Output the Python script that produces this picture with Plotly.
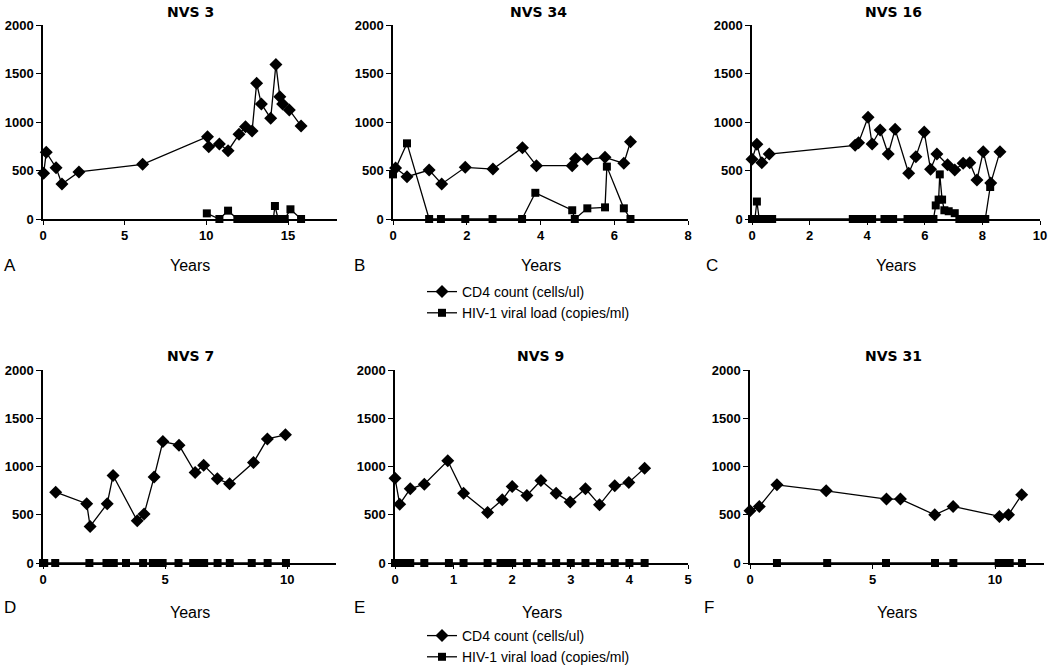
import plotly.graph_objects as go

W, H = 1050, 667

# ---------------- data ----------------
panel_titles = ["NVS 3", "NVS 34", "NVS 16", "NVS 7", "NVS 9", "NVS 31"]
panel_letters = ["A", "B", "C", "D", "E", "F"]

# Panel A (NVS 3)
a_cd4_x = [0.04, 0.2, 0.8, 1.16, 2.2, 6.1, 10.07, 10.15, 10.8, 11.33, 12.0, 12.4, 12.8, 13.08, 13.37, 13.94, 14.26, 14.5, 14.67, 15.08, 15.8]
a_cd4_y = [471, 687, 529, 361, 485, 564, 849, 746, 773, 704, 873, 952, 907, 1399, 1186, 1038, 1594, 1261, 1186, 1124, 959]
a_vl_x = [10.03, 10.8, 11.33, 11.9, 12.1, 12.3, 12.5, 12.7, 12.9, 13.1, 13.3, 13.5, 13.9, 14.1, 14.2, 14.4, 14.6, 14.8, 15.15, 15.8]
a_vl_y = [58, 0, 86, 0, 0, 0, 0, 0, 0, 0, 0, 0, 0, 0, 134, 0, 0, 0, 100, 0]

# Panel B (NVS 34)
b_cd4_x = [0.07, 0.38, 0.98, 1.32, 1.96, 2.71, 3.51, 3.89, 4.86, 4.95, 5.27, 5.75, 6.26, 6.44]
b_cd4_y = [525, 436, 505, 361, 533, 515, 735, 550, 550, 622, 615, 636, 574, 797]
b_vl_x = [0.0, 0.38, 0.98, 1.3, 1.96, 2.7, 3.5, 3.86, 4.86, 4.93, 5.27, 5.75, 5.8, 6.26, 6.44]
b_vl_y = [460, 780, 0, 0, 0, 0, 0, 270, 90, 0, 110, 120, 540, 110, 0]

# Panel C (NVS 16)
c_cd4_x = [0.0, 0.17, 0.34, 0.6, 3.58, 3.7, 4.03, 4.17, 4.45, 4.73, 4.97, 5.44, 5.69, 5.98, 6.2, 6.42, 6.79, 7.04, 7.33, 7.56, 7.81, 8.03, 8.29, 8.61]
c_cd4_y = [615, 770, 581, 670, 760, 787, 1048, 773, 918, 670, 924, 471, 643, 897, 512, 670, 560, 505, 574, 581, 402, 694, 370, 694]
c_vl_x = [0.0, 0.1, 0.17, 0.25, 0.34, 0.45, 0.6, 0.7, 3.5, 3.6, 3.7, 3.9, 4.05, 4.17, 4.6, 4.75, 4.9, 5.4, 5.5, 5.6, 5.7, 5.8, 5.95, 6.1, 6.3, 6.38, 6.48, 6.52, 6.6, 6.68, 6.83, 7.04, 7.2, 7.4, 7.6, 7.8, 8.0, 8.1, 8.27]
c_vl_y = [0, 0, 180, 0, 0, 0, 0, 0, 0, 0, 0, 0, 0, 0, 0, 0, 0, 0, 0, 0, 0, 0, 0, 0, 0, 140, 200, 460, 200, 90, 80, 60, 0, 0, 0, 0, 0, 0, 330]

# Panel D (NVS 7)
d_cd4_x = [0.52, 1.79, 1.93, 2.63, 2.87, 3.86, 4.14, 4.55, 4.91, 5.57, 6.23, 6.58, 7.14, 7.64, 8.62, 9.19, 9.93]
d_cd4_y = [734, 614, 379, 614, 907, 438, 507, 890, 1259, 1221, 938, 1014, 872, 821, 1041, 1286, 1328]
d_vl_x = [0.0, 0.05, 0.5, 1.9, 2.6, 2.75, 2.9, 3.4, 4.1, 4.5, 4.65, 4.8, 4.9, 5.55, 6.15, 6.35, 6.6, 7.15, 7.65, 8.55, 9.2, 9.95]
d_vl_y = [0] * len(d_vl_x)

# Panel E (NVS 9)
e_cd4_x = [0.0, 0.08, 0.26, 0.5, 0.9, 1.17, 1.58, 1.83, 2.0, 2.25, 2.49, 2.75, 2.99, 3.25, 3.49, 3.75, 3.99, 4.26]
e_cd4_y = [879, 610, 769, 817, 1059, 724, 524, 655, 793, 700, 855, 724, 631, 769, 603, 800, 834, 983]
e_vl_x = [0.0, 0.03, 0.1, 0.15, 0.26, 0.5, 0.92, 1.17, 1.58, 1.8, 1.88, 2.0, 2.25, 2.5, 2.75, 3.0, 3.25, 3.5, 3.75, 4.0, 4.26]
e_vl_y = [0] * len(e_vl_x)

# Panel F (NVS 31)
f_cd4_x = [0.0, 0.38, 1.1, 3.11, 5.57, 6.14, 7.54, 8.29, 10.18, 10.55, 11.09]
f_cd4_y = [541, 586, 810, 748, 662, 662, 500, 586, 483, 500, 707]
f_vl_x = [1.1, 3.15, 5.55, 7.55, 8.3, 10.15, 10.3, 10.5, 10.6, 11.1]
f_vl_y = [0] * len(f_vl_x)

x_ranges = [[0, 18], [0, 8], [0, 10], [0, 12], [0, 5], [0, 12]]
x_ticks = [[0, 5, 10, 15], [0, 2, 4, 6, 8], [0, 2, 4, 6, 8, 10], [0, 5, 10], [0, 1, 2, 3, 4, 5], [0, 5, 10]]
y_ticks = [0, 500, 1000, 1500, 2000]
x_title = "Years"
cd4_name = "CD4 count (cells/ul)"
vl_name = "HIV-1 viral load (copies/ml)"

panels = [
    (a_cd4_x, a_cd4_y, a_vl_x, a_vl_y),
    (b_cd4_x, b_cd4_y, b_vl_x, b_vl_y),
    (c_cd4_x, c_cd4_y, c_vl_x, c_vl_y),
    (d_cd4_x, d_cd4_y, d_vl_x, d_vl_y),
    (e_cd4_x, e_cd4_y, e_vl_x, e_vl_y),
    (f_cd4_x, f_cd4_y, f_vl_x, f_vl_y),
]

# ---------------- layout (pixel geometry) ----------------
x_px = [(43, 337), (393, 688), (752, 1040), (43, 336), (395, 688), (750, 1044)]
y_px = [(25, 219), (25, 219), (25, 219), (370, 563), (370, 563), (370, 563)]
title_px = [(190, 12), (538, 12), (893, 12), (190, 356), (540, 356), (893, 356)]
letter_px = [(2, 265), (352, 265), (704, 265), (2, 607), (352, 607), (702, 607)]
years_y_px = [265, 265, 265, 612, 612, 612]

def px_x(p):
    return p / W

def px_y(p):
    return 1 - p / H

fig = go.Figure()
tick_font = dict(family="Liberation Sans, Arial", size=13, color="black", weight="bold")

annotations = []
for i, (cx, cy, vx, vy) in enumerate(panels):
    xa = "x" if i == 0 else f"x{i+1}"
    ya = "y" if i == 0 else f"y{i+1}"
    legend_ref = "legend" if i < 3 else "legend2"
    show = i in (0, 3)
    fig.add_trace(go.Scatter(
        x=cx, y=cy, mode="lines+markers", name=cd4_name,
        line=dict(color="black", width=1.3),
        marker=dict(symbol="diamond", size=10, color="black"),
        xaxis=xa, yaxis=ya, cliponaxis=False,
        showlegend=show, legend=legend_ref,
    ))
    fig.add_trace(go.Scatter(
        x=vx, y=vy, mode="lines+markers", name=vl_name,
        line=dict(color="black", width=1.3),
        marker=dict(symbol="square", size=8, color="black"),
        xaxis=xa, yaxis=ya, cliponaxis=False,
        showlegend=show, legend=legend_ref,
    ))
    sfx = "" if i == 0 else str(i + 1)
    fig.layout["xaxis" + sfx] = dict(
        domain=[px_x(x_px[i][0]), px_x(x_px[i][1])],
        range=x_ranges[i], tickvals=x_ticks[i], ticks="outside", ticklen=4,
        tickwidth=1.3, tickcolor="black",
        showline=True, linecolor="black", linewidth=1.5, showgrid=False,
        zeroline=False, anchor=ya, tickfont=tick_font, fixedrange=True,
        automargin=False,
    )
    fig.layout["yaxis" + sfx] = dict(
        domain=[px_y(y_px[i][1]), px_y(y_px[i][0])],
        range=[0, 2000], tickvals=y_ticks, ticks="outside", ticklen=5,
        tickwidth=1.3, tickcolor="black",
        showline=True, linecolor="black", linewidth=1.5, showgrid=False,
        zeroline=False, anchor=xa, tickfont=tick_font, fixedrange=True,
        automargin=False,
    )
    annotations.append(dict(
        text=f"<b>{panel_titles[i]}</b>", x=px_x(title_px[i][0]), y=px_y(title_px[i][1]),
        xref="paper", yref="paper", showarrow=False, xanchor="center", yanchor="middle",
        font=dict(family="DejaVu Sans, Arial", size=14, color="black"),
    ))
    annotations.append(dict(
        text=panel_letters[i], x=px_x(letter_px[i][0]), y=px_y(letter_px[i][1]),
        xref="paper", yref="paper", showarrow=False, xanchor="left", yanchor="middle",
        font=dict(family="Liberation Sans, Arial", size=17, color="black"),
    ))
    annotations.append(dict(
        text=x_title, x=px_x((x_px[i][0] + x_px[i][1]) / 2), y=px_y(years_y_px[i]),
        xref="paper", yref="paper", showarrow=False, xanchor="center", yanchor="middle",
        font=dict(family="Liberation Sans, Arial", size=16, color="black"),
    ))

legend_style = dict(
    font=dict(family="Liberation Sans, Arial", size=14, color="black"),
    bgcolor="rgba(0,0,0,0)", itemwidth=30, tracegroupgap=0,
    xanchor="left", yanchor="top", orientation="v",
)
fig.update_layout(
    width=W, height=H,
    margin=dict(l=0, r=0, t=0, b=0, autoexpand=False),
    paper_bgcolor="white", plot_bgcolor="white",
    annotations=annotations,
    legend=dict(x=px_x(422), y=px_y(276), **legend_style),
    legend2=dict(x=px_x(422), y=px_y(620), **legend_style),
)

# remove the browser's default 8px body margin so the figure fills the window
fig.write_html(
    "out.html",
    config={"displayModeBar": False},
    post_script="document.body.style.margin='0';document.body.style.overflow='hidden';",
)
